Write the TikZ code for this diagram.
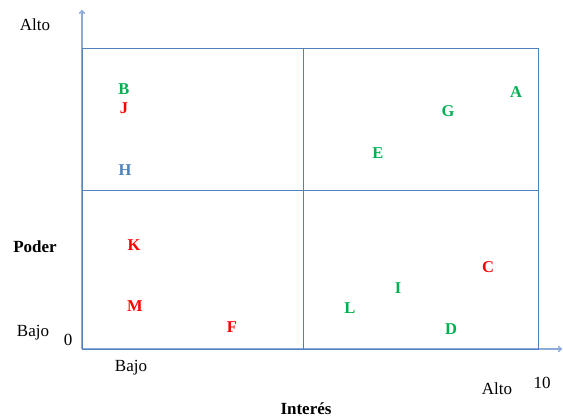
\documentclass[tikz,border=0pt]{standalone}
\usepackage{fontspec}
\setmainfont{Liberation Serif}
\usepackage{tikz}
\usetikzlibrary{arrows.meta,positioning}
\definecolor{lineblue}{HTML}{4F81BD}
\definecolor{axisblue}{HTML}{8EAADB}
\definecolor{stakegreen}{HTML}{00B050}
\definecolor{stakered}{HTML}{FF0000}
\tikzset{
  axis/.style={draw=axisblue,line width=1.4pt,-{To[length=4pt,width=6pt]}},
  grid/.style={draw=lineblue,line width=0.9pt},
  lbl/.style={font=\fontsize{17}{20}\selectfont,text=black,inner sep=0pt},
  title/.style={lbl,font=\fontsize{17}{20}\selectfont\bfseries},
  stake/.style={font=\fontsize{16.5}{19}\selectfont\bfseries,inner sep=0pt,text=#1},
  stake/.default=stakegreen,
}
\begin{document}
\begin{tikzpicture}[x=1pt,y=-1pt]
  \useasboundingbox (0,0) rectangle (563,417);
  % axes
  \coordinate (origin) at (82,349);
  \coordinate (ytip) at (82,10);
  \coordinate (xtip) at (562,349);
  \draw[axis] (origin) -- (ytip);
  \draw[axis] (origin) -- (xtip);
  % quadrants
  \draw[grid] (82,48) rectangle (538,349);
  \draw[grid] (82,190) -- (538,190);
  \draw[grid] (303,48) -- (303,349);
  % axis labels
  \node[lbl] (alto-y) at (35,25) {Alto};
  \node[title] (poder) at (35,247) {Poder};
  \node[lbl] (bajo-y) at (33,333) {Bajo};
  \node[lbl] (zero) at (68,340) {0};
  \node[lbl] (bajo-x) at (131,368) {Bajo};
  \node[lbl] (alto-x) at (497,389) {Alto};
  \node[lbl] (ten) at (542,383) {10};
  \node[title] (interes) at (306,409) {Interés};
  % stakeholders
  \node[stake] (b) at (124,89) {B};
  \node[stake=stakered] (j) at (124,108) {J};
  \node[stake=lineblue] (h) at (125,170) {H};
  \node[stake] (a) at (516,92) {A};
  \node[stake] (g) at (448,111) {G};
  \node[stake] (e) at (378,153) {E};
  \node[stake=stakered] (k) at (134,245) {K};
  \node[stake=stakered] (m) at (135,306) {M};
  \node[stake=stakered] (f) at (232,327) {F};
  \node[stake=stakered] (c) at (488,267) {C};
  \node[stake] (i) at (398,288) {I};
  \node[stake] (l) at (350,308) {L};
  \node[stake] (d) at (451,329) {D};
\end{tikzpicture}
\end{document}
